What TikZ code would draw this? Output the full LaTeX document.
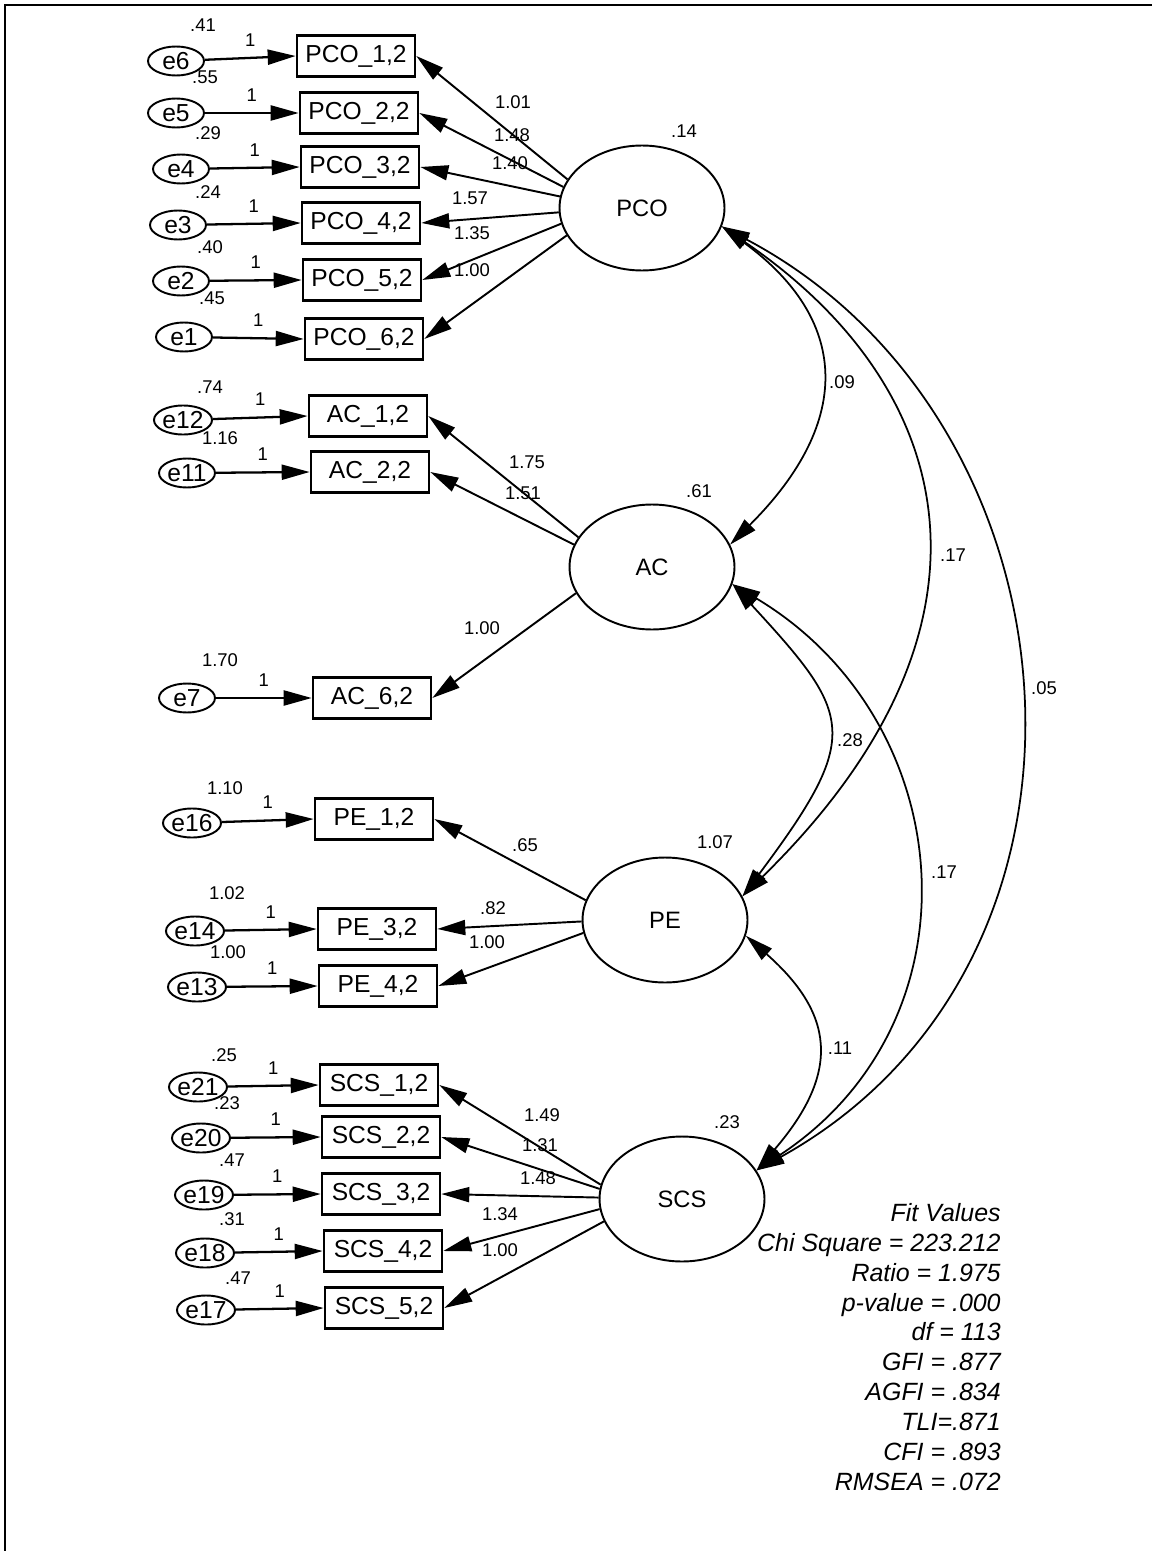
\documentclass[tikz,border=0pt]{standalone}
\usepackage{fontspec}
\setmainfont{Liberation Sans}
\usetikzlibrary{shapes.geometric,arrows.meta}

\begin{document}
\begin{tikzpicture}[x=0.02cm,y=-0.02cm,>={Triangle[length=0.56cm,width=0.3cm]},
  latent/.style={ellipse,draw,line width=1.1pt,minimum width=3.3cm,minimum height=2.5cm,inner sep=0pt,font=\fontsize{13.5}{15}\selectfont},
  ind/.style={rectangle,draw,line width=1.5pt,minimum width=2.36cm,minimum height=0.82cm,inner sep=0pt,font=\fontsize{14}{16}\selectfont},
  err/.style={ellipse,draw,line width=1.1pt,minimum width=1.12cm,minimum height=0.58cm,inner sep=0pt,font=\fontsize{14}{16}\selectfont},
  num/.style={inner sep=1pt,font=\fontsize{10.5}{12}\selectfont},
  errarr/.style={line width=1.3pt,->},
  load/.style={line width=1.1pt,->},
  cov/.style={line width=1pt,<->}]
 \useasboundingbox (0,0) rectangle (1152,1551);
 \draw[line width=1.6pt] (1152,5) -- (5,5) -- (5,1551);
 % latent variables
 \node[latent] (PCO) at (642,208) {PCO};
 \node[latent] (AC) at (652,567) {AC};
 \node[latent] (PE) at (665,920) {PE};
 \node[latent] (SCS) at (682,1199) {SCS};
 \node[num] at (684,131) {.14};
 \node[num] at (699,491) {.61};
 \node[num] at (715,842) {1.07};
 \node[num] at (727,1122) {.23};
 % PCO block
 \node[ind] (pco1) at (356,56) {PCO\_1,2};
 \node[ind] (pco2) at (359,113) {PCO\_2,2};
 \node[ind] (pco3) at (360,167) {PCO\_3,2};
 \node[ind] (pco4) at (361,223) {PCO\_4,2};
 \node[ind] (pco5) at (362,280) {PCO\_5,2};
 \node[ind] (pco6) at (364,339) {PCO\_6,2};
 \node[err] (e6) at (176,61) {e6};
 \node[err] (e5) at (176,113) {e5};
 \node[err] (e4) at (181,169) {e4};
 \node[err] (e3) at (178,225) {e3};
 \node[err] (e2) at (181,281) {e2};
 \node[err] (e1) at (184,337) {e1};
 \draw[errarr] (e6) -- (pco1.west) node[num,midway,above=5pt] {1};
 \draw[errarr] (e5) -- (pco2.west) node[num,midway,above=5pt] {1};
 \draw[errarr] (e4) -- (pco3.west) node[num,midway,above=5pt] {1};
 \draw[errarr] (e3) -- (pco4.west) node[num,midway,above=5pt] {1};
 \draw[errarr] (e2) -- (pco5.west) node[num,midway,above=5pt] {1};
 \draw[errarr] (e1) -- (pco6.west) node[num,midway,above=5pt] {1};
 \node[num] at (203,25) {.41}; \node[num] at (205,77) {.55};
 \node[num] at (208,133) {.29}; \node[num] at (208,192) {.24};
 \node[num] at (210,247) {.40}; \node[num] at (212,298) {.45};
 \draw[load] (PCO.159) -- (pco1.east); \node[num] at (513,102) {1.01};
 \draw[load] (PCO.165) -- (pco2.east); \node[num] at (512,135) {1.48};
 \draw[load] (PCO.172) -- (pco3.east); \node[num] at (510,163) {1.40};
 \draw[load] (PCO.183) -- (pco4.east); \node[num] at (470,198) {1.57};
 \draw[load] (PCO.191) -- (pco5.east); \node[num] at (472,233) {1.35};
 \draw[load] (PCO.200) -- (pco6.east); \node[num] at (472,270) {1.00};
 % AC block
 \node[ind] (ac1) at (368,416) {AC\_1,2};
 \node[ind] (ac2) at (370,472) {AC\_2,2};
 \node[ind] (ac6) at (372,698) {AC\_6,2};
 \node[err] (e12) at (183,420) {e12};
 \node[err] (e11) at (187,473) {e11};
 \node[err] (e7) at (187,698) {e7};
 \draw[errarr] (e12) -- (ac1.west) node[num,midway,above=5pt] {1};
 \draw[errarr] (e11) -- (ac2.west) node[num,midway,above=5pt] {1};
 \draw[errarr] (e7) -- (ac6.west) node[num,midway,above=5pt] {1};
 \node[num] at (210,387) {.74}; \node[num] at (220,438) {1.16};
 \node[num] at (220,660) {1.70};
 \draw[load] (AC.158) -- (ac1.east); \node[num] at (527,462) {1.75};
 \draw[load] (AC.164) -- (ac2.east); \node[num] at (523,493) {1.51};
 \draw[load] (AC.199) -- (ac6.east); \node[num] at (482,628) {1.00};
 % PE block
 \node[ind] (pe1) at (374,819) {PE\_1,2};
 \node[ind] (pe3) at (377,929) {PE\_3,2};
 \node[ind] (pe4) at (378,986) {PE\_4,2};
 \node[err] (e16) at (192,823) {e16};
 \node[err] (e14) at (195,931) {e14};
 \node[err] (e13) at (197,987) {e13};
 \draw[errarr] (e16) -- (pe1.west) node[num,midway,above=5pt] {1};
 \draw[errarr] (e14) -- (pe3.west) node[num,midway,above=5pt] {1};
 \draw[errarr] (e13) -- (pe4.west) node[num,midway,above=5pt] {1};
 \node[num] at (225,788) {1.10}; \node[num] at (227,893) {1.02};
 \node[num] at (228,952) {1.00};
 \draw[load] (PE.166) -- (pe1.east); \node[num] at (525,845) {.65};
 \draw[load] (PE.181) -- (pe3.east); \node[num] at (493,908) {.82};
 \draw[load] (PE.189) -- (pe4.east); \node[num] at (487,942) {1.00};
 % SCS block
 \node[ind] (scs1) at (379,1085) {SCS\_1,2};
 \node[ind] (scs2) at (381,1137) {SCS\_2,2};
 \node[ind] (scs3) at (381,1194) {SCS\_3,2};
 \node[ind] (scs4) at (383,1251) {SCS\_4,2};
 \node[ind] (scs5) at (384,1308) {SCS\_5,2};
 \node[err] (e21) at (198,1087) {e21};
 \node[err] (e20) at (201,1138) {e20};
 \node[err] (e19) at (204,1195) {e19};
 \node[err] (e18) at (205,1253) {e18};
 \node[err] (e17) at (206,1310) {e17};
 \draw[errarr] (e21) -- (scs1.west) node[num,midway,above=5pt] {1};
 \draw[errarr] (e20) -- (scs2.west) node[num,midway,above=5pt] {1};
 \draw[errarr] (e19) -- (scs3.west) node[num,midway,above=5pt] {1};
 \draw[errarr] (e18) -- (scs4.west) node[num,midway,above=5pt] {1};
 \draw[errarr] (e17) -- (scs5.west) node[num,midway,above=5pt] {1};
 \node[num] at (224,1055) {.25}; \node[num] at (227,1103) {.23};
 \node[num] at (232,1160) {.47}; \node[num] at (232,1219) {.31};
 \node[num] at (238,1278) {.47};
 \draw[load] (SCS.170) -- (scs1.east); \node[num] at (542,1115) {1.49};
 \draw[load] (SCS.173) -- (scs2.east); \node[num] at (540,1145) {1.31};
 \draw[load] (SCS.179) -- (scs3.east); \node[num] at (538,1178) {1.48};
 \draw[load] (SCS.187) -- (scs4.east); \node[num] at (500,1214) {1.34};
 \draw[load] (SCS.196) -- (scs5.east); \node[num] at (500,1250) {1.00};
 % covariances
 \draw[cov] (PCO.-13) .. controls (847,318) and (856,419) .. (AC.16);
 \node[num] at (842,382) {.09};
 \draw[cov] (AC.-12) .. controls (853,715) and (863,735) .. (PE.17);
 \node[num] at (850,740) {.28};
 \draw[cov] (PE.-11) .. controls (832,1012) and (843,1070) .. (SCS.21);
 \node[num] at (840,1048) {.11};
 \draw[cov] (PCO.-13) .. controls (962,390) and (1015,630) .. (PE.17);
 \node[num] at (953,555) {.17};
 \draw[cov] (AC.-12) .. controls (960,720) and (985,1020) .. (SCS.21);
 \node[num] at (944,872) {.17};
 \draw[cov] (PCO.-13) .. controls (1088,420) and (1135,960) .. (SCS.21);
 \node[num] at (1044,688) {.05};
 % fit values
 \node[anchor=north east,align=right,inner sep=0pt,font=\fontsize{14.2}{17}\selectfont\itshape] (fitvals) at (1001,1203)
  {Fit Values\\Chi Square = 223.212\\Ratio = 1.975\\p-value = .000\\df = 113\\GFI = .877\\AGFI = .834\\TLI=.871\\CFI = .893\\RMSEA = .072};
\end{tikzpicture}
\end{document}
